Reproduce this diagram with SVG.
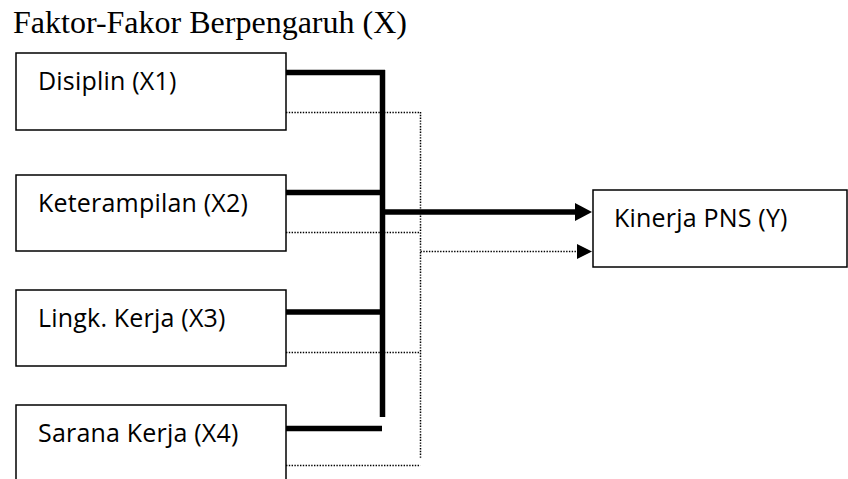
<svg xmlns="http://www.w3.org/2000/svg" width="848" height="479" viewBox="0 0 848 479">
<style>
.box{fill:#fff;stroke:#000;stroke-width:1.5}
.lbl{font-family:"Open Sans","Noto Sans",sans-serif;font-size:25px;letter-spacing:0.2px;fill:#000}
.title{font-family:"Liberation Serif","Times New Roman",serif;font-size:32px;fill:#000}
.thick{stroke:#000;stroke-width:5.5;fill:none}
.dot{stroke:#000;stroke-width:1.5;stroke-dasharray:1.4 1.4;fill:none}
.head{fill:#000}
</style>
<rect width="848" height="479" fill="#fff"/>
<text class="title" x="13" y="33">Faktor-Fakor Berpengaruh (X)</text>
<g id="connectors">
  <path class="thick" d="M286 72.5H385M286 192.5H382M286 312H382M286 428.5H382M382.5 70V417"/>
  <path class="thick" d="M382 212H577"/>
  <polygon class="head" points="575,203 592,212 575,221"/>
  <path class="dot" d="M286 112.5H420.5M286 232.5H420.5M286 352.5H420.5M286 465.5H420.5M420.5 112V458"/>
  <path class="dot" d="M420.5 251.5H578"/>
  <polygon class="head" points="577,244 592,251.5 577,259"/>
</g>
<g id="x1"><rect class="box" x="16" y="53" width="270" height="77"/><text class="lbl" x="38" y="90">Disiplin (X1)</text></g>
<g id="x2"><rect class="box" x="16" y="175" width="270" height="76"/><text class="lbl" x="38" y="212">Keterampilan (X2)</text></g>
<g id="x3"><rect class="box" x="16" y="290" width="270" height="76"/><text class="lbl" x="38" y="327">Lingk. Kerja (X3)</text></g>
<g id="x4"><rect class="box" x="16" y="405" width="270" height="90"/><text class="lbl" x="38" y="442">Sarana Kerja (X4)</text></g>
<g id="y"><rect class="box" x="593" y="190" width="254" height="77"/><text class="lbl" x="614" y="227">Kinerja PNS (Y)</text></g>
</svg>
